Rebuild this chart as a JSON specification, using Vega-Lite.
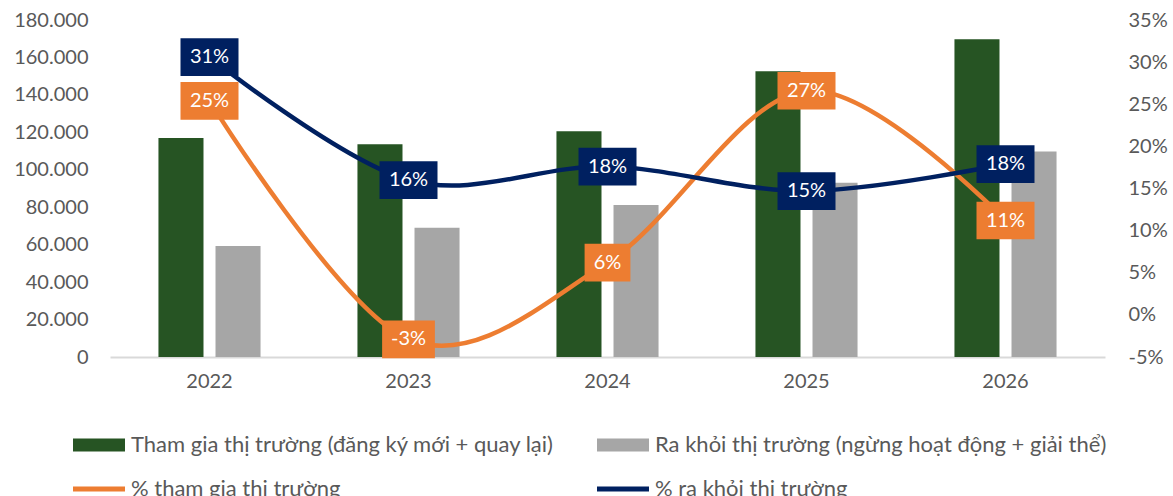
{
  "$schema": "https://vega.github.io/schema/vega-lite/v6.json",
  "autosize": {"type": "none"},
  "width": 995,
  "height": 337,
  "padding": {"left": 110, "top": 20, "right": 68, "bottom": 139},
  "background": "white",
  "config": {
    "font": "Lato",
    "locale": {"number": {"decimal": ",", "thousands": ".", "grouping": [3], "currency": ["", " ₫"], "minus": "-"}},
    "view": {"stroke": null},
    "axis": {"labelFont": "Lato", "labelFontSize": 20, "labelColor": "#595959", "ticks": false, "grid": false}
  },
  "data": {
    "values": [
      {"year": "2022", "Tham gia thị trường (đăng ký mới + quay lại)": 117000, "Ra khỏi thị trường (ngừng hoạt động + giải thể)": 59300, "% tham gia thị trường": 0.254, "% ra khỏi thị trường": 0.306},
      {"year": "2023", "Tham gia thị trường (đăng ký mới + quay lại)": 113600, "Ra khỏi thị trường (ngừng hoạt động + giải thể)": 69100, "% tham gia thị trường": -0.029, "% ra khỏi thị trường": 0.160},
      {"year": "2024", "Tham gia thị trường (đăng ký mới + quay lại)": 120600, "Ra khỏi thị trường (ngừng hoạt động + giải thể)": 81200, "% tham gia thị trường": 0.062, "% ra khỏi thị trường": 0.176},
      {"year": "2025", "Tham gia thị trường (đăng ký mới + quay lại)": 152600, "Ra khỏi thị trường (ngừng hoạt động + giải thể)": 93100, "% tham gia thị trường": 0.266, "% ra khỏi thị trường": 0.147},
      {"year": "2026", "Tham gia thị trường (đăng ký mới + quay lại)": 169700, "Ra khỏi thị trường (ngừng hoạt động + giải thể)": 109700, "% tham gia thị trường": 0.112, "% ra khỏi thị trường": 0.179}
    ]
  },
  "encoding": {
    "x": {
      "field": "year", "type": "nominal",
      "scale": {"paddingInner": 0.487, "paddingOuter": 0.2435},
      "axis": {"title": null, "labelAngle": 0, "domain": true, "domainColor": "#D9D9D9", "domainWidth": 2, "labelPadding": 14}
    }
  },
  "layer": [
    {
      "transform": [{"fold": ["Tham gia thị trường (đăng ký mới + quay lại)", "Ra khỏi thị trường (ngừng hoạt động + giải thể)"], "as": ["series", "value"]}],
      "mark": {"type": "bar"},
      "encoding": {
        "xOffset": {"field": "series", "type": "nominal", "scale": {"paddingInner": 0.2105, "paddingOuter": 0, "domain": ["Tham gia thị trường (đăng ký mới + quay lại)", "Ra khỏi thị trường (ngừng hoạt động + giải thể)"]}},
        "y": {
          "field": "value", "type": "quantitative",
          "scale": {"domain": [0, 180000], "nice": false},
          "axis": {"title": null, "domain": false, "values": [0, 20000, 40000, 60000, 80000, 100000, 120000, 140000, 160000, 180000], "labelExpr": "replace(format(datum.value, ','), ',', '.')", "labelPadding": 22}
        },
        "color": {
          "field": "series", "type": "nominal",
          "scale": {
            "domain": ["Tham gia thị trường (đăng ký mới + quay lại)", "Ra khỏi thị trường (ngừng hoạt động + giải thể)", "% tham gia thị trường", "% ra khỏi thị trường"],
            "range": ["#265423", "#A6A6A6", "#ED7D31", "#002060"]
          },
          "legend": {
            "title": null, "orient": "none", "legendX": -37, "legendY": 399,
            "direction": "horizontal", "columns": 2, "columnPadding": 42, "rowPadding": 7,
            "labelFont": "Lato", "labelFontSize": 22, "labelColor": "#595959", "labelOffset": 6, "labelLimit": 700,
            "symbolSize": 2704, "padding": 0,
            "encode": {
              "symbols": {
                "update": {
                  "shape": {"signal": "indexof(datum.value, '%') === 0 ? 'M-1,-0.1H1V0.1H-1Z' : 'M-1,-0.25H1V0.25H-1Z'"},
                  "fill": {"signal": "scale('color', datum.value)"},
                  "strokeWidth": {"value": 0},
                  "opacity": {"value": 1}
                }
              }
            }
          }
        }
      }
    },
    {
      "layer": [
        {
          "mark": {"type": "line", "interpolate": "cardinal", "tension": 0, "strokeWidth": 4.5},
          "encoding": {
            "y": {"field": "value", "type": "quantitative"},
            "color": {"field": "series", "type": "nominal"}
          }
        },
        {
          "mark": {"type": "point", "filled": true, "opacity": 1, "size": 3364, "strokeWidth": 0},
          "encoding": {
            "y": {"field": "value", "type": "quantitative"},
            "color": {"field": "series", "type": "nominal", "legend": null},
            "shape": {
              "condition": [
                {"test": "datum.value < 0", "value": "M-0.91,-0.65H0.91V0.65H-0.91Z"},
                {"test": "abs(datum.value) < 0.095", "value": "M-0.79,-0.65H0.79V0.65H-0.79Z"}
              ],
              "value": "M-1,-0.65H1V0.65H-1Z"
            }
          }
        },
        {
          "mark": {"type": "text", "color": "white", "fontSize": 20, "font": "Lato", "baseline": "middle", "align": "center"},
          "encoding": {
            "y": {"field": "value", "type": "quantitative"},
            "text": {"field": "value", "type": "quantitative", "format": ".0%"}
          }
        }
      ],
      "transform": [{"fold": ["% tham gia thị trường", "% ra khỏi thị trường"], "as": ["series", "value"]}],
      "encoding": {
        "y": {
          "field": "value", "type": "quantitative",
          "scale": {"domain": [-0.05, 0.35], "nice": false},
          "axis": {"title": null, "orient": "right", "domain": false, "format": ".0%", "values": [-0.05, 0, 0.05, 0.1, 0.15, 0.2, 0.25, 0.3, 0.35], "labelPadding": 23}
        }
      },
      "resolve": {"scale": {"y": "shared"}}
    }
  ],
  "resolve": {"scale": {"y": "independent"}}
}
